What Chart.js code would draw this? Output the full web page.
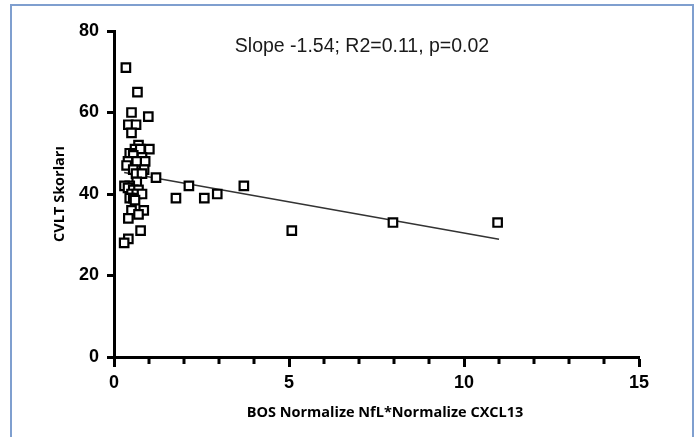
<!DOCTYPE html>
<html>
<head>
<meta charset="utf-8">
<script src="https://cdn.jsdelivr.net/npm/chart.js@4.4.1/dist/chart.umd.min.js"></script>
<style>
    body { margin: 0; background: #fff; }
    #frame {
        position: absolute; left: 10px; top: 4px; width: 680px; height: 440px;
        border: 2px solid #7f9fcf; border-bottom: none;
    }
    #chart { position: absolute; left: 0; top: 0; }
</style>
</head>
<body>
<div id="frame"></div>
<canvas id="chart" width="694" height="437"></canvas>
<script>
// CVLT scores vs CSF normalized NfL * normalized CXCL13
const productValues = [0.34, 0.67, 0.50, 0.98, 0.41, 0.63, 0.50, 0.70, 0.60, 0.75, 1.01, 0.45, 0.55, 0.80,
    0.40, 0.65, 0.89, 0.36, 0.55, 0.86, 0.63, 0.80, 1.20, 0.65, 0.45, 0.30, 0.40, 0.55, 0.70, 0.50,
    0.65, 0.80, 0.45, 0.55, 0.60, 0.50, 0.85, 0.70, 0.41, 0.76, 0.41, 0.29,
    1.77, 2.14, 2.58, 2.95, 3.71, 5.08, 7.97, 10.96];
const cvltScores = [71, 65, 60, 59, 57, 57, 55, 52, 51, 51, 51, 50, 49.5, 49,
    48, 48, 48, 47, 46, 46, 45, 45, 44, 43, 42, 42, 41.5, 41, 41, 40,
    40, 40, 39, 39, 38.5, 36, 36, 35, 34, 31, 29, 28,
    39, 42, 39, 40, 42, 31, 33, 33];

// fitted line end points
const fitX = [0.29, 11];
const fitY = [45.3, 28.9];

const xTicks = [0, 5, 10, 15];
const yTicks = [0, 20, 40, 60, 80];
const statsText = 'Slope -1.54; R2=0.11, p=0.02';
const xTitle = 'BOS Normalize NfL*Normalize CXCL13';

const points = productValues.map((x, i) => ({ x: x, y: cvltScores[i] }));
const fitLine = fitX.map((x, i) => ({ x: x, y: fitY[i] }));

// minor ticks on x axis, stats label, x title
const extrasPlugin = {
    id: 'extras',
    afterDraw(chart) {
        const ctx = chart.ctx;
        const xs = chart.scales.x;
        ctx.save();
        ctx.strokeStyle = '#000';
        ctx.lineWidth = 3;
        for (let v = 1; v < 15; v++) {
            if (v % 5 === 0) continue;
            const px = Math.round(xs.getPixelForValue(v));
            ctx.beginPath();
            ctx.moveTo(px, xs.top);
            ctx.lineTo(px, xs.top + 7);
            ctx.stroke();
        }
        ctx.fillStyle = '#1a1a1a';
        ctx.font = '19.5px "Liberation Sans", Arial, sans-serif';
        ctx.textAlign = 'center';
        ctx.textBaseline = 'middle';
        ctx.fillText(statsText, 362, 47);

        ctx.fillStyle = '#000';
        ctx.font = 'bold 14.5px "Open Sans", sans-serif';
        ctx.fillText(xTitle, 385, 413);
        ctx.restore();
    }
};

new Chart(document.getElementById('chart'), {
    type: 'scatter',
    data: {
        datasets: [{
            data: points,
            pointStyle: 'rect',
            pointRadius: 6,
            pointBorderWidth: 2.2,
            pointBackgroundColor: '#fff',
            pointBorderColor: '#000',
            order: 0
        }, {
            type: 'line',
            data: fitLine,
            borderColor: '#333',
            borderWidth: 1.5,
            pointRadius: 0,
            fill: false,
            order: 1
        }]
    },
    options: {
        responsive: false,
        animation: false,
        events: [],
        layout: { padding: { left: 50, top: 31, right: 55, bottom: 0 } },
        plugins: { legend: { display: false }, tooltip: { enabled: false } },
        scales: {
            x: {
                type: 'linear',
                min: 0, max: 15,
                afterFit: s => { s.height = 80; },
                afterBuildTicks: s => { s.ticks = xTicks.map(v => ({ value: v })); },
                border: { display: true, color: '#000', width: 3 },
                grid: { drawOnChartArea: false, drawTicks: true, tickLength: 10, tickWidth: 3, tickColor: '#000' },
                ticks: { color: '#000', padding: 5, font: { family: '"Liberation Sans", Arial', size: 18, weight: 'bold' } }
            },
            y: {
                type: 'linear',
                min: 0, max: 80,
                afterFit: s => { s.width = 64; },
                afterBuildTicks: s => { s.ticks = yTicks.map(v => ({ value: v })); },
                border: { display: true, color: '#000', width: 3 },
                grid: { drawOnChartArea: false, drawTicks: true, tickLength: 7, tickWidth: 3, tickColor: '#000' },
                ticks: { color: '#000', padding: 8, font: { family: '"Liberation Sans", Arial', size: 18, weight: 'bold' } },
                title: {
                    display: true,
                    text: 'CVLT Skorları',
                    color: '#000',
                    padding: { top: 1 },
                    font: { family: '"Open Sans", sans-serif', size: 14.5, weight: 'bold' }
                }
            }
        }
    },
    plugins: [extrasPlugin]
});
</script>
</body>
</html>
